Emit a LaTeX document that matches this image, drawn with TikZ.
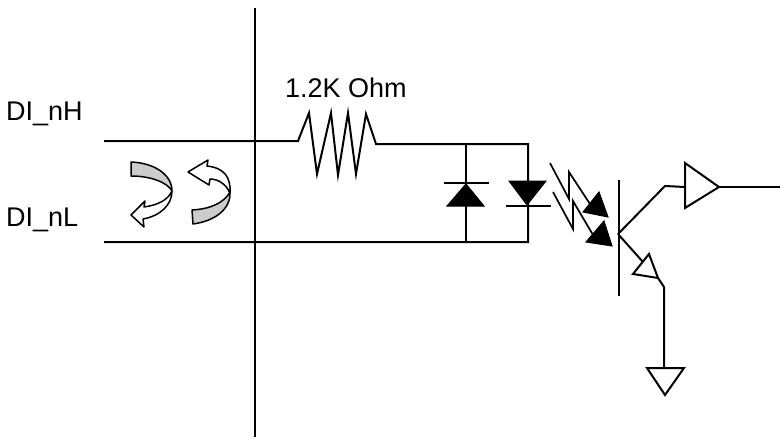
\documentclass[tikz,border=0pt]{standalone}
\usepackage{fontspec}
\setmainfont{Liberation Sans}
\tikzset{
  wire/.style={line width=2pt,line join=miter,black},
  solid tri/.style={fill=black,draw=black,line width=1pt,line join=miter},
  open tri/.style={fill=white,draw=black,line width=2pt,line join=miter},
  bent/.style={draw=black,line width=1.5pt,line join=round},
  lab/.style={font=\fontsize{27}{30}\selectfont,inner sep=0pt,anchor=base west,black}
}
\begin{document}
\begin{tikzpicture}[x=1pt,y=-1pt]
\useasboundingbox (0,0) rectangle (780,439);
% labels
\node[lab] (dih) at (6,120) {DI\_nH};
\node[lab] (dil) at (6,226) {DI\_nL};
\node[lab] (ohm) at (285,97) {1.2K Ohm};
% named points
\coordinate (divT) at (255,8);
\coordinate (divB) at (255,437);
\coordinate (hL) at (104,141);
\coordinate (rA) at (298,141);
\coordinate (rB) at (376,144);
\coordinate (nA) at (466,144);
\coordinate (nB) at (528,144);
\coordinate (lL) at (104,242);
\coordinate (sA) at (466,242);
\coordinate (sB) at (528,242);
% divider and wires
\draw[wire] (divT) -- (divB);
\draw[wire] (hL) -- (rA) -- (309,113) -- (317,174) -- (331,113) -- (338,175) -- (348,113) -- (356,174) -- (366,114) -- (rB) -- (nB) -- (sB) -- (lL);
\draw[wire] (nA) -- (sA);
% diode 1
\draw[solid tri] (466,184) -- (447,206) -- (484,206) -- cycle;
\draw[wire] (444,183) -- (489,183);
% diode 2
\draw[solid tri] (509,181) -- (546,181) -- (527,205) -- cycle;
\draw[wire] (506,206) -- (551,206);
% light arrows
\draw[wire,line width=1.7pt] (550,163) -- (569,199) -- (569,172) -- (590,204);
\draw[solid tri] (599,192) -- (608,217) -- (583,212) -- cycle;
\draw[wire,line width=1.7pt] (553,192) -- (573,229) -- (573,201) -- (596,240);
\draw[solid tri] (604,221) -- (612,246) -- (586,242) -- cycle;
% transistor
\coordinate (base) at (618,234);
\draw[wire] (619,180) -- (619,296);
\draw[wire] (base) -- (665,186) -- (685,187);
\draw[wire] (base) -- (643,262);
\draw[open tri] (649,254) -- (633,274) -- (658,278) -- cycle;
\draw[wire] (658,278) -- (664,287) -- (664,368);
% buffer and ground
\draw[open tri] (685,163) -- (685,208) -- (719,187) -- cycle;
\draw[wire] (719,187) -- (780,187);
\draw[open tri] (647,368) -- (684,368) -- (665,395) -- cycle;
% left curved arrow
\path[bent,fill=white] (172,191) .. controls (172,205) and (160,216) .. (143,219) -- (144,227) -- (131,215) -- (145,201) -- (144,207) .. controls (158,205) and (168,200) .. (172,191) -- cycle;
\path[bent,fill=black!20] (131,162) .. controls (155,163) and (172,175) .. (172,191) .. controls (167,182) and (150,176) .. (131,176) -- cycle;
% right curved arrow
\path[bent,fill=white] (230,193) .. controls (231,178) and (225,168) .. (207,166) -- (208,160) -- (188,172) -- (209,185) -- (210,179) .. controls (218,179) and (226,184) .. (230,193) -- cycle;
\path[bent,fill=black!20] (192,210) .. controls (210,209) and (224,203) .. (230,192) .. controls (231,209) and (215,221) .. (193,224) -- cycle;
\end{tikzpicture}
\end{document}
